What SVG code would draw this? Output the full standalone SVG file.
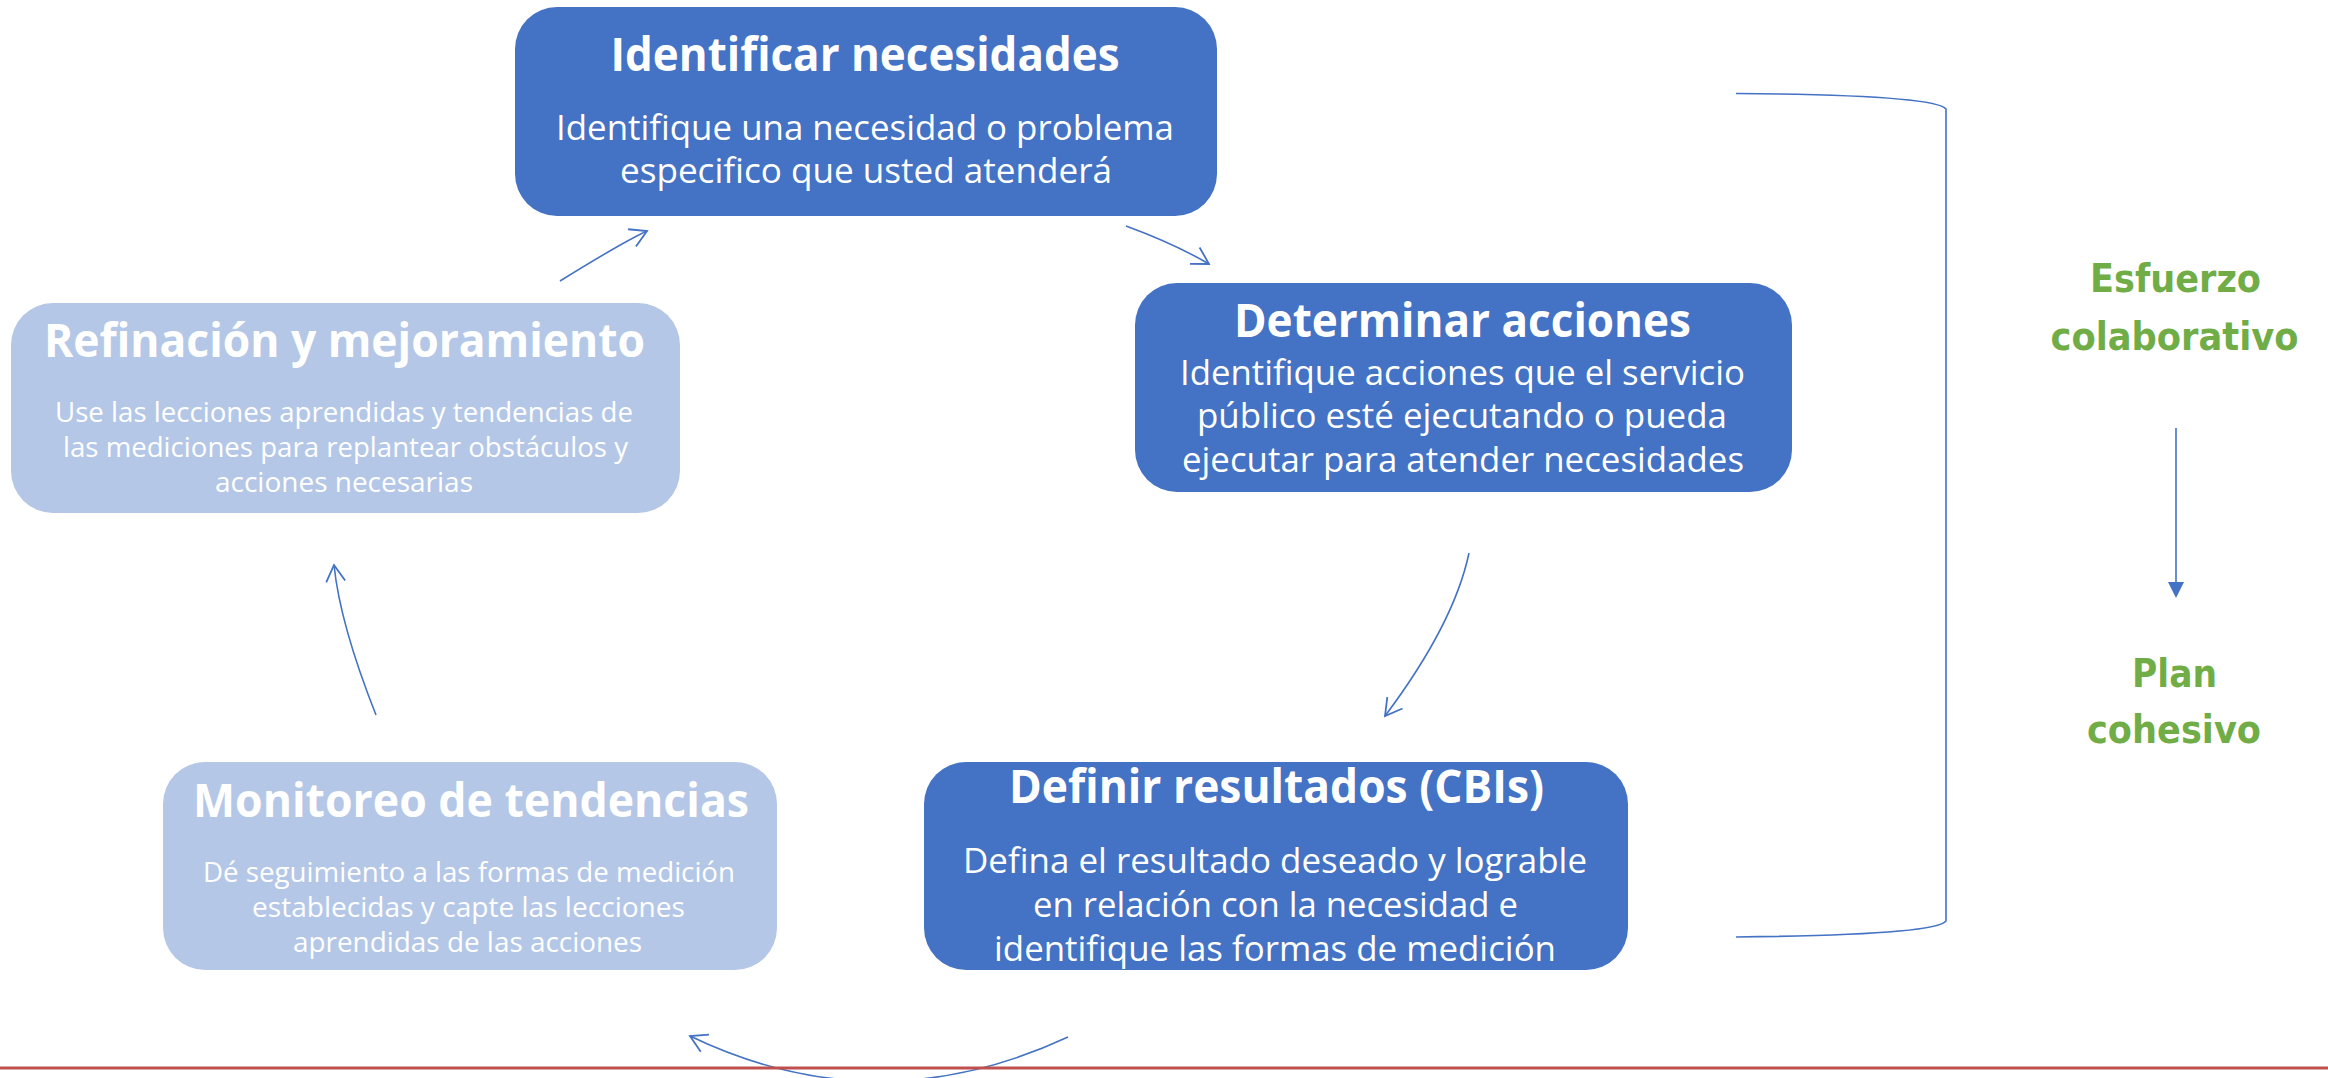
<svg xmlns="http://www.w3.org/2000/svg" width="2328" height="1078" viewBox="0 0 2328 1078">
<style>
.dark{fill:#4472C4;}
.light{fill:#B4C7E7;}
.t{font-family:"Open Sans","DejaVu Sans",sans-serif;fill:#FFFFFF;text-anchor:middle;}
.ti{font-weight:700;font-size:46px;}
.s1{font-size:35px;}
.s2{font-size:28px;}
.g{font-family:"DejaVu Sans","Verdana",sans-serif;font-weight:700;font-size:39px;fill:#70AD47;text-anchor:middle;}
.c{fill:none;stroke:#4472C4;stroke-width:1.6;}
</style>
<defs>
<marker id="ah" viewBox="0 0 22 22" refX="20" refY="11" markerWidth="22" markerHeight="22" markerUnits="userSpaceOnUse" orient="auto">
<path d="M3.5,1.5 L20,11 L3.5,20.5" fill="none" stroke="#4472C4" stroke-width="1.8"/>
</marker>
</defs>
<rect x="0" y="0" width="2328" height="1078" fill="#FFFFFF"/>

<g id="connectors">
<path class="c" d="M560,281 Q623,242 647,231" marker-end="url(#ah)"/>
<path class="c" d="M1126,226 Q1175,244 1209,264" marker-end="url(#ah)"/>
<path class="c" d="M1469,553 Q1454,624 1385,716" marker-end="url(#ah)"/>
<path class="c" d="M1068,1037 Q877,1126 690,1036" marker-end="url(#ah)"/>
<path class="c" d="M376,715 Q340,624 334,565" marker-end="url(#ah)"/>
<path class="c" d="M1736,93.5 Q1935,95 1946,109 L1946,921 Q1935,935 1736,937"/>
<line x1="2176" y1="428" x2="2176" y2="584" stroke="#4472C4" stroke-width="1.6"/>
<polygon points="2168,582 2184,582 2176,598" fill="#4472C4"/>
</g>

<g id="node-identificar">
<rect class="dark" x="515" y="7" width="702" height="209" rx="42"/>
<text class="t ti" x="865" y="71" textLength="509" lengthAdjust="spacingAndGlyphs">Identificar necesidades</text>
<text class="t s1" x="865" y="140" textLength="618" lengthAdjust="spacingAndGlyphs">Identifique una necesidad o problema</text>
<text class="t s1" x="866" y="183" textLength="492" lengthAdjust="spacingAndGlyphs">especifico que usted atenderá</text>
</g>

<g id="node-determinar">
<rect class="dark" x="1135" y="283" width="657" height="209" rx="42"/>
<text class="t ti" x="1462.5" y="337" textLength="457" lengthAdjust="spacingAndGlyphs">Determinar acciones</text>
<text class="t s1" x="1462.5" y="385" textLength="565" lengthAdjust="spacingAndGlyphs">Identifique acciones que el servicio</text>
<text class="t s1" x="1462" y="428" textLength="530" lengthAdjust="spacingAndGlyphs">público esté ejecutando o pueda</text>
<text class="t s1" x="1463" y="472" textLength="562" lengthAdjust="spacingAndGlyphs">ejecutar para atender necesidades</text>
</g>

<g id="node-definir">
<rect class="dark" x="924" y="762" width="704" height="208" rx="42"/>
<text class="t ti" x="1276.5" y="803" textLength="535" lengthAdjust="spacingAndGlyphs">Definir resultados (CBIs)</text>
<text class="t s1" x="1275" y="873" textLength="624" lengthAdjust="spacingAndGlyphs">Defina el resultado deseado y lograble</text>
<text class="t s1" x="1275.5" y="917" textLength="485" lengthAdjust="spacingAndGlyphs">en relación con la necesidad e</text>
<text class="t s1" x="1275" y="961" textLength="562" lengthAdjust="spacingAndGlyphs">identifique las formas de medición</text>
</g>

<g id="node-monitoreo">
<rect class="light" x="163" y="762" width="614" height="208" rx="42"/>
<text class="t ti" x="471" y="817" textLength="556" lengthAdjust="spacingAndGlyphs">Monitoreo de tendencias</text>
<text class="t s2" x="469" y="882" textLength="532" lengthAdjust="spacingAndGlyphs">Dé seguimiento a las formas de medición</text>
<text class="t s2" x="468.5" y="917" textLength="433" lengthAdjust="spacingAndGlyphs">establecidas y capte las lecciones</text>
<text class="t s2" x="467.5" y="952" textLength="349" lengthAdjust="spacingAndGlyphs">aprendidas de las acciones</text>
</g>

<g id="node-refinacion">
<rect class="light" x="11" y="303" width="669" height="210" rx="42"/>
<text class="t ti" x="344.5" y="357" textLength="601" lengthAdjust="spacingAndGlyphs">Refinación y mejoramiento</text>
<text class="t s2" x="344" y="422" textLength="578" lengthAdjust="spacingAndGlyphs">Use las lecciones aprendidas y tendencias de</text>
<text class="t s2" x="345.5" y="457" textLength="565" lengthAdjust="spacingAndGlyphs">las mediciones para replantear obstáculos y</text>
<text class="t s2" x="344" y="492" textLength="258" lengthAdjust="spacingAndGlyphs">acciones necesarias</text>
</g>

<g id="label-esfuerzo">
<text class="g" x="2175.5" y="292" textLength="171" lengthAdjust="spacingAndGlyphs">Esfuerzo</text>
<text class="g" x="2174.5" y="350" textLength="248" lengthAdjust="spacingAndGlyphs">colaborativo</text>
</g>

<g id="label-plan">
<text class="g" x="2174.5" y="687" textLength="85" lengthAdjust="spacingAndGlyphs">Plan</text>
<text class="g" x="2174" y="743" textLength="174" lengthAdjust="spacingAndGlyphs">cohesivo</text>
</g>

<line id="bottom-rule" x1="0" y1="1068" x2="2328" y2="1068" stroke="#C0504D" stroke-width="3"/>
</svg>
